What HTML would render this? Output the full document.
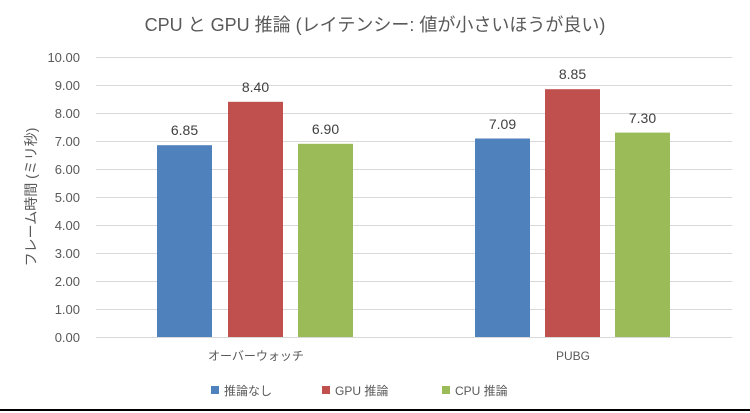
<!DOCTYPE html>
<html><head><meta charset="utf-8"><style>
html,body{margin:0;padding:0;background:#fff;}
body{width:750px;height:413px;position:relative;overflow:hidden;font-family:"Liberation Sans","Noto Sans CJK JP",sans-serif;}
</style></head><body>
<svg width="750" height="413" xmlns="http://www.w3.org/2000/svg" style="position:absolute;left:0;top:0" font-family="Liberation Sans, Noto Sans CJK JP, sans-serif">
<text x="375" y="31" text-anchor="middle" font-size="18" fill="#595959">CPU と GPU 推論 (レイテンシー: 値が小さいほうが良い)</text>
<g stroke="#d9d9d9" stroke-width="1">
<line x1="96" x2="732" y1="57.5" y2="57.5"/><line x1="96" x2="732" y1="85.5" y2="85.5"/>
<line x1="96" x2="732" y1="113.5" y2="113.5"/><line x1="96" x2="732" y1="141.5" y2="141.5"/>
<line x1="96" x2="732" y1="169.5" y2="169.5"/><line x1="96" x2="732" y1="197.5" y2="197.5"/>
<line x1="96" x2="732" y1="225.5" y2="225.5"/><line x1="96" x2="732" y1="253.5" y2="253.5"/>
<line x1="96" x2="732" y1="281.5" y2="281.5"/><line x1="96" x2="732" y1="309.5" y2="309.5"/>
<line x1="96" x2="732" y1="337.5" y2="337.5"/>
</g>
<g font-size="13" fill="#595959" text-anchor="end">
<text x="80" y="62">10.00</text><text x="80" y="90">9.00</text><text x="80" y="118">8.00</text>
<text x="80" y="146">7.00</text><text x="80" y="174">6.00</text><text x="80" y="202">5.00</text>
<text x="80" y="230">4.00</text><text x="80" y="258">3.00</text><text x="80" y="286">2.00</text>
<text x="80" y="314">1.00</text><text x="80" y="342">0.00</text>
</g>
<text transform="translate(36,197) rotate(-90)" text-anchor="middle" font-size="14" fill="#595959">フレーム時間 (ミリ秒)</text>
<rect x="157" y="145.2" width="55" height="191.8" fill="#4f81bd"/>
<rect x="228" y="101.8" width="55" height="235.2" fill="#c0504d"/>
<rect x="298" y="143.8" width="55" height="193.2" fill="#9bbb59"/>
<rect x="475" y="138.5" width="55" height="198.5" fill="#4f81bd"/>
<rect x="545" y="89.2" width="55" height="247.8" fill="#c0504d"/>
<rect x="615" y="132.6" width="55" height="204.4" fill="#9bbb59"/>
<g font-size="14" fill="#404040" text-anchor="middle">
<text x="184.5" y="135">6.85</text><text x="255.5" y="92">8.40</text><text x="325.5" y="134">6.90</text>
<text x="502.5" y="129">7.09</text><text x="572.5" y="79">8.85</text><text x="642.5" y="123">7.30</text>
</g>
<g font-size="12" fill="#595959" text-anchor="middle">
<text x="256" y="360">オーバーウォッチ</text><text x="573" y="360">PUBG</text>
</g>
<g font-size="12" fill="#595959">
<rect x="211" y="386" width="8" height="8" fill="#4f81bd"/><text x="224" y="395">推論なし</text>
<rect x="322" y="386" width="8" height="8" fill="#c0504d"/><text x="335" y="395">GPU 推論</text>
<rect x="442" y="386" width="8" height="8" fill="#9bbb59"/><text x="455" y="395">CPU 推論</text>
</g>
<rect x="0" y="409" width="750" height="2" fill="#000"/>
</svg>
</body></html>
